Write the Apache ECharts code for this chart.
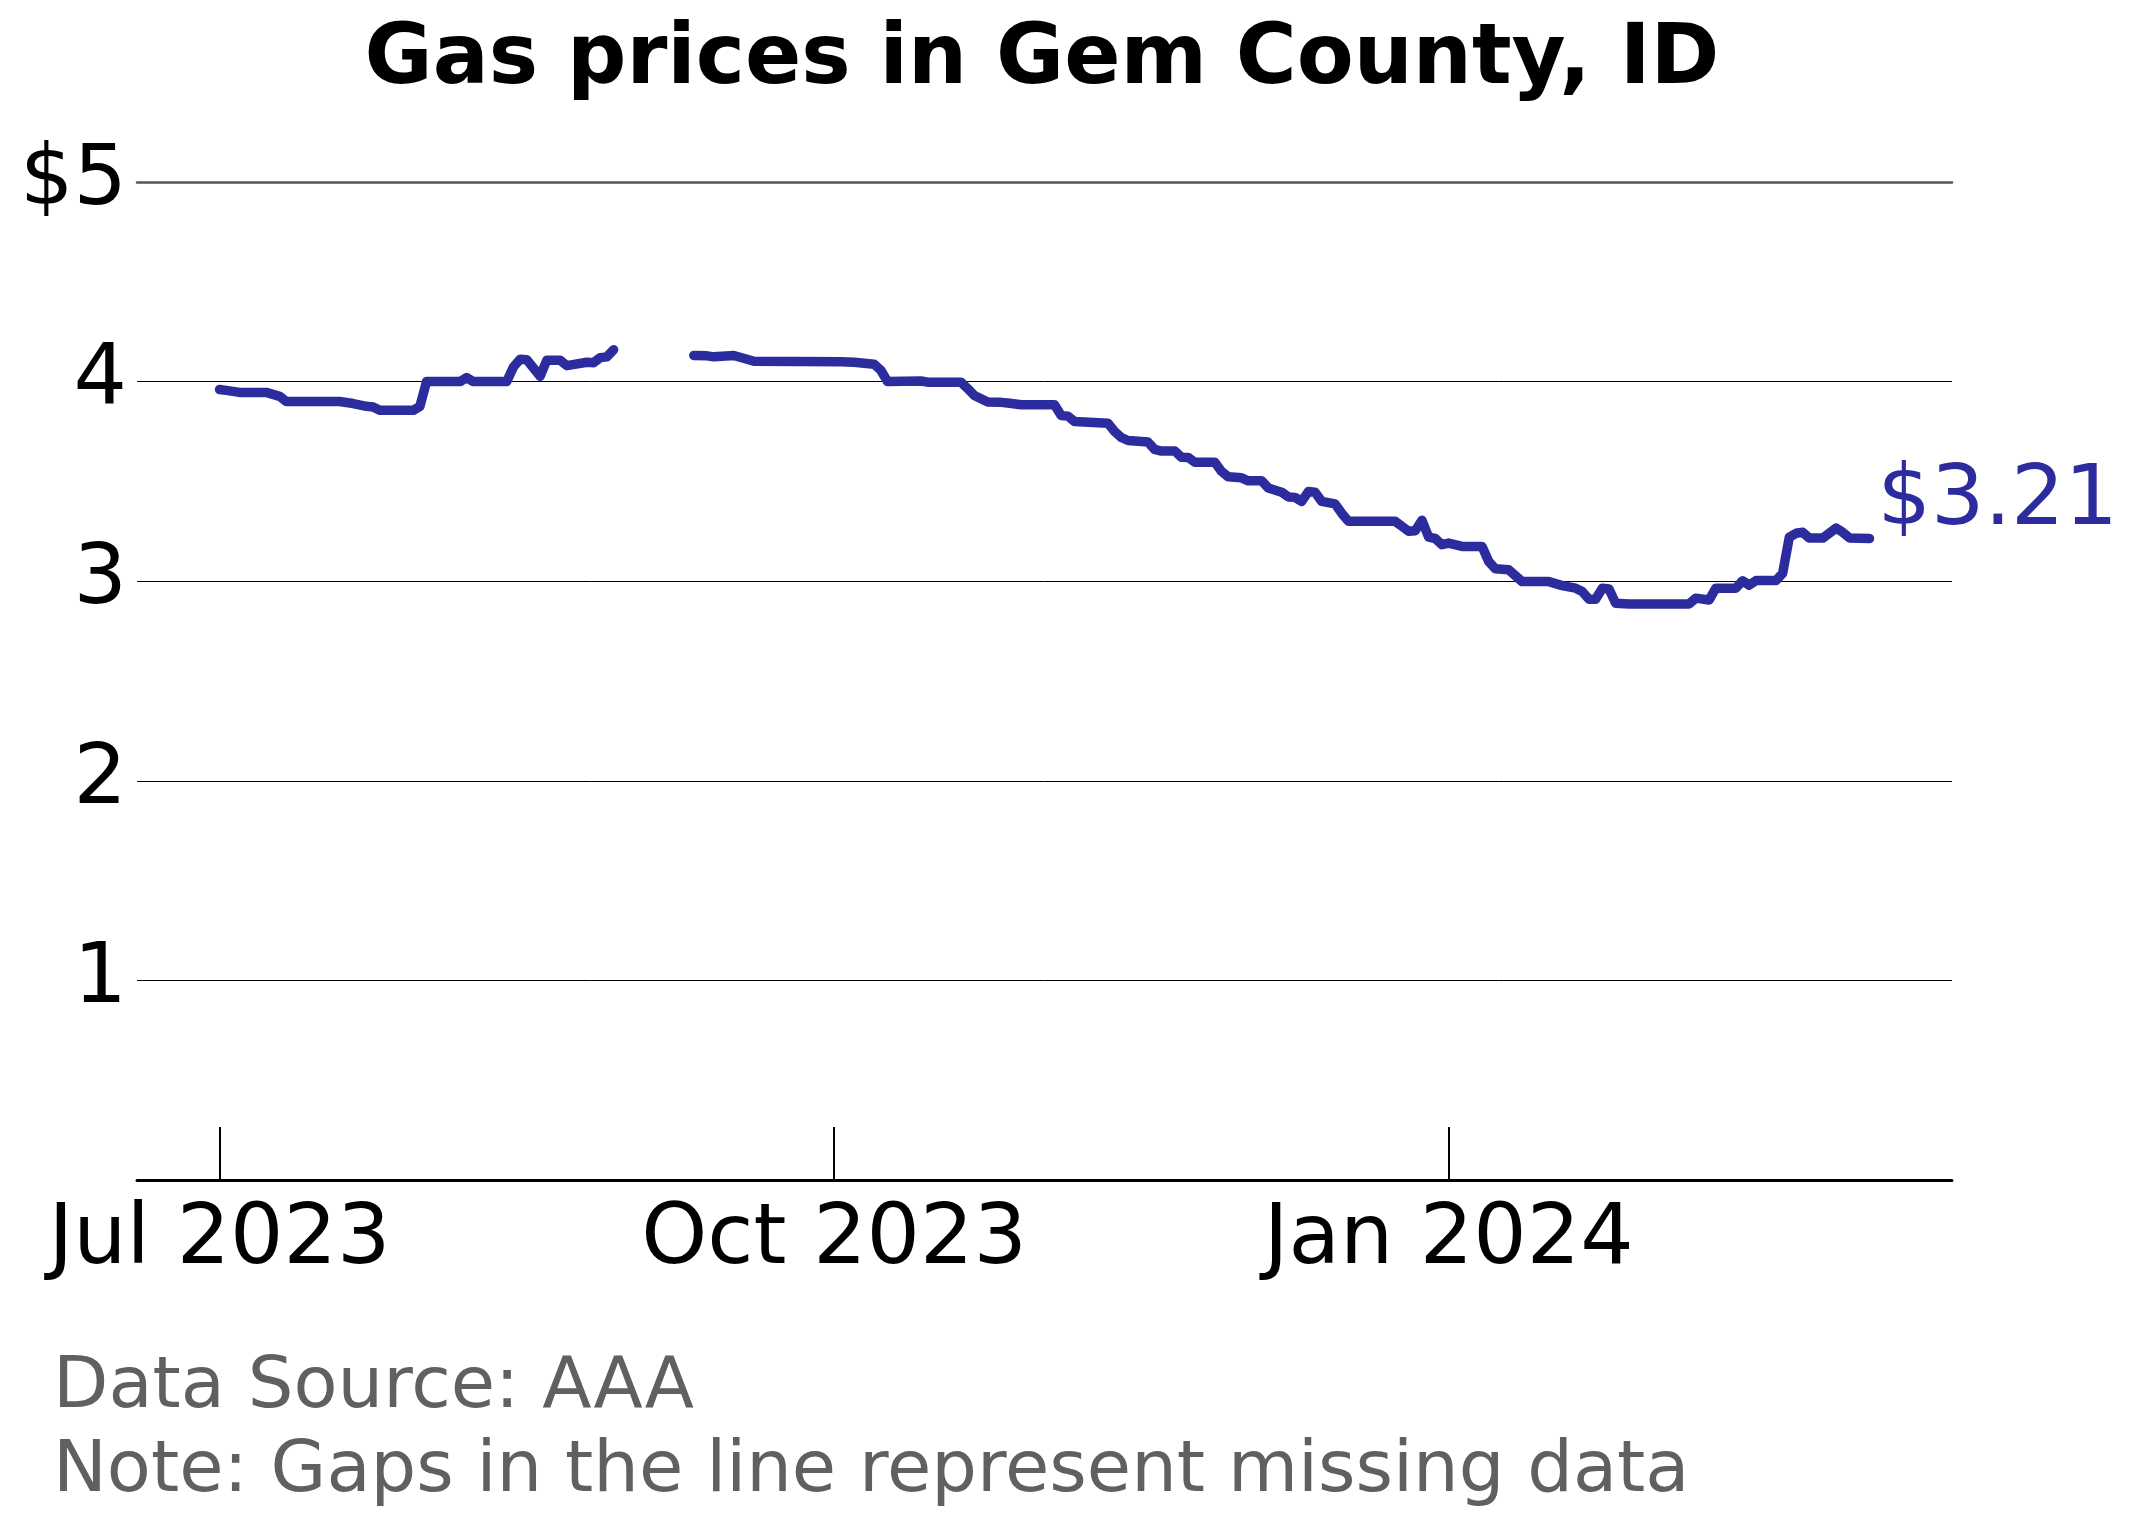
<!DOCTYPE html>
<html>
<head>
<meta charset="utf-8">
<script src="https://cdn.jsdelivr.net/npm/echarts@6/dist/echarts.min.js"></script>
<style>
  html, body { margin: 0; padding: 0; background: #ffffff; }
  #chart { width: 2132px; height: 1524px; }
</style>
</head>
<body>
<div id="chart"></div>
<script>
// ---- Data ----
const titleText = 'Gas prices in Gem County, ID';
const sourceText = 'Data Source: AAA';
const noteText = 'Note: Gaps in the line represent missing data';

const dates = [
  '2023-07-01','2023-07-02','2023-07-04','2023-07-08','2023-07-10','2023-07-11','2023-07-19','2023-07-21',
  '2023-07-23','2023-07-24','2023-07-25','2023-07-30','2023-07-31','2023-08-01','2023-08-06','2023-08-07',
  '2023-08-08','2023-08-13','2023-08-14','2023-08-15','2023-08-16','2023-08-18','2023-08-19','2023-08-21',
  '2023-08-22','2023-08-25','2023-08-26','2023-08-27','2023-08-28','2023-08-29',
  '2023-09-04',
  '2023-09-10','2023-09-12','2023-09-13','2023-09-16','2023-09-19','2023-10-02','2023-10-04','2023-10-07',
  '2023-10-08','2023-10-09','2023-10-14','2023-10-15','2023-10-20','2023-10-21','2023-10-22','2023-10-24',
  '2023-10-26','2023-10-27','2023-10-29','2023-11-03','2023-11-04','2023-11-05','2023-11-06','2023-11-11',
  '2023-11-12','2023-11-13','2023-11-14','2023-11-17','2023-11-18','2023-11-19','2023-11-21','2023-11-22',
  '2023-11-23','2023-11-24','2023-11-27','2023-11-28','2023-11-29','2023-12-01','2023-12-02','2023-12-04',
  '2023-12-05','2023-12-07','2023-12-08','2023-12-09','2023-12-10','2023-12-11','2023-12-12','2023-12-13',
  '2023-12-15','2023-12-16','2023-12-17','2023-12-24','2023-12-25','2023-12-26','2023-12-27','2023-12-28',
  '2023-12-29','2023-12-30','2023-12-31','2024-01-01','2024-01-03','2024-01-06','2024-01-07','2024-01-08',
  '2024-01-10','2024-01-12','2024-01-16','2024-01-18','2024-01-20','2024-01-21','2024-01-22','2024-01-23',
  '2024-01-24','2024-01-25','2024-01-26','2024-01-28','2024-02-06','2024-02-07','2024-02-09','2024-02-10',
  '2024-02-13','2024-02-14','2024-02-15','2024-02-16','2024-02-19','2024-02-20','2024-02-21','2024-02-22',
  '2024-02-23','2024-02-24','2024-02-26','2024-02-27','2024-02-28','2024-02-29','2024-03-01','2024-03-04'
];

const prices = [
  3.960,3.956,3.946,3.946,3.926,3.900,3.900,3.890,
  3.876,3.873,3.856,3.856,3.876,4.000,4.000,4.020,
  4.000,4.000,4.073,4.112,4.110,4.027,4.107,4.107,
  4.080,4.097,4.095,4.120,4.124,4.160,
  null,
  4.131,4.129,4.124,4.131,4.102,4.100,4.097,4.087,
  4.057,4.000,4.003,3.997,3.997,3.965,3.930,3.898,
  3.896,3.893,3.884,3.884,3.830,3.827,3.800,3.791,
  3.750,3.720,3.705,3.697,3.660,3.652,3.652,3.621,
  3.620,3.596,3.596,3.550,3.523,3.518,3.503,3.503,
  3.467,3.446,3.422,3.420,3.400,3.449,3.446,3.400,
  3.387,3.340,3.300,3.300,3.275,3.250,3.253,3.305,
  3.221,3.214,3.183,3.191,3.174,3.174,3.099,3.062,
  3.057,2.998,2.998,2.978,2.965,2.948,2.910,2.910,
  2.965,2.961,2.890,2.886,2.886,2.915,2.906,2.965,
  2.965,3.002,2.980,3.003,3.003,3.040,3.221,3.240,
  3.245,3.216,3.216,3.241,3.266,3.245,3.217,3.214
];

const tickDates = ['2023-07-01', '2023-10-01', '2024-01-01'];
const tickLabels = ['Jul 2023', 'Oct 2023', 'Jan 2024'];

// ---- Chart ----
const FONT = '"DejaVu Sans", sans-serif';
const LINE_COLOR = '#2c2c9e';

const seriesData = dates.map((d, i) => [Date.parse(d), prices[i]]);
const t0 = Date.parse(dates[0]);
const t1 = Date.parse(dates[dates.length - 1]);
const pad = (t1 - t0) * 0.05;
const tickTimes = tickDates.map(d => Date.parse(d));

const chart = echarts.init(document.getElementById('chart'), null, { renderer: 'canvas' });

chart.setOption({
  backgroundColor: '#ffffff',
  animation: false,
  title: {
    text: titleText,
    left: 1042,
    top: 19,
    padding: 0,
    textAlign: 'center',
    textStyle: {
      fontFamily: FONT,
      fontSize: 83,
      fontWeight: 'bold',
      color: '#000000',
      lineHeight: 84
    }
  },
  grid: {
    left: 137,
    right: 180,
    top: 182,
    bottom: 344,
    containLabel: false,
    outerBoundsMode: 'none'
  },
  xAxis: [
    {
      type: 'value',
      min: t0 - pad,
      max: t1 + pad,
      axisLine: { show: true, onZero: false, lineStyle: { color: '#000000', width: 3 } },
      axisTick: {
        show: true,
        inside: true,
        length: 53,
        customValues: tickTimes,
        lineStyle: { color: '#000000', width: 2 }
      },
      axisLabel: {
        show: true,
        customValues: tickTimes,
        showMinLabel: true,
        showMaxLabel: true,
        margin: 19,
        fontFamily: FONT,
        fontSize: 84,
        lineHeight: 84,
        color: '#000000',
        formatter: function (val) {
          let best = 0, bd = Infinity;
          tickTimes.forEach((t, i) => { const dd = Math.abs(t - val); if (dd < bd) { bd = dd; best = i; } });
          return tickLabels[best];
        }
      },
      splitLine: { show: false }
    },
    {
      type: 'value',
      position: 'top',
      min: 0,
      max: 1,
      axisLine: { show: true, onZero: false, lineStyle: { color: '#555555', width: 2.5 } },
      axisTick: { show: false },
      axisLabel: { show: false },
      splitLine: { show: false }
    }
  ],
  yAxis: {
    type: 'value',
    min: 0,
    max: 5,
    interval: 1,
    axisLine: { show: false },
    axisTick: { show: false },
    axisLabel: {
      margin: 10,
      fontFamily: FONT,
      fontSize: 84,
      color: '#000000',
      formatter: function (v) {
        if (v === 0) return '';
        if (v === 5) return '$5';
        return String(v);
      }
    },
    splitLine: { show: true, lineStyle: { color: '#000000', width: 1 } }
  },
  graphic: [
    {
      type: 'text',
      x: 53,
      y: 1388,
      style: {
        text: sourceText,
        font: '72px ' + FONT,
        fill: '#606060',
        align: 'left',
        verticalAlign: 'middle'
      }
    },
    {
      type: 'text',
      x: 53,
      y: 1472,
      style: {
        text: noteText,
        font: '72px ' + FONT,
        fill: '#606060',
        align: 'left',
        verticalAlign: 'middle'
      }
    }
  ],
  series: [
    {
      type: 'line',
      xAxisIndex: 0,
      data: seriesData,
      connectNulls: false,
      showSymbol: false,
      symbol: 'none',
      lineStyle: { color: LINE_COLOR, width: 9.5, cap: 'round', join: 'round' },
      itemStyle: { color: LINE_COLOR },
      emphasis: { disabled: true },
      endLabel: {
        show: true,
        distance: 8,
        offset: [0, -36],
        fontFamily: FONT,
        fontSize: 84,
        color: LINE_COLOR,
        formatter: function (p) { return '$' + Number(p.value[1]).toFixed(2); }
      }
    }
  ]
});
</script>
</body>
</html>
